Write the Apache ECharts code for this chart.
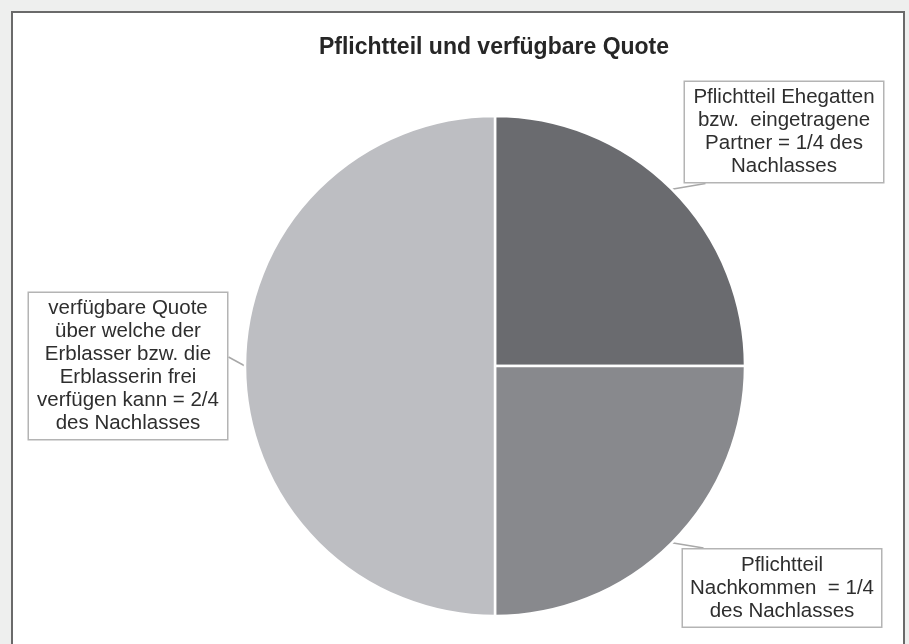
<!DOCTYPE html>
<html>
<head>
<meta charset="utf-8">
<script src="https://cdn.jsdelivr.net/npm/echarts@6/dist/echarts.min.js"></script>
<style>
  html, body { margin: 0; padding: 0; background: #eeefee; }
  #frame { position: absolute; left: 11px; top: 11px; width: 890px; height: 640px;
           background: #fff; border: 2px solid #6a6a6a; border-bottom: none; }
  #main { position: absolute; left: 0; top: 0; width: 909px; height: 644px; }
</style>
</head>
<body>
<div id="frame"></div>
<div id="main"></div>
<script>
var titleText = 'Pflichtteil und verfügbare Quote';
var sliceNames = [
    'Pflichtteil Ehegatten\nbzw.  eingetragene\nPartner = 1/4 des\nNachlasses',
    'Pflichtteil\nNachkommen  = 1/4\ndes Nachlasses',
    'verfügbare Quote\nüber welche der\nErblasser bzw. die\nErblasserin frei\nverfügen kann = 2/4\ndes Nachlasses'
];
var sliceValues = [1, 1, 2];
var sliceColors = ['#6a6b6f', '#88898d', '#bdbec2'];
// where each callout box sits (centre of box)
var labelSpots = [[784, 132], [782, 588], [128, 366]];

var dom = document.getElementById('main');
var myChart = echarts.init(dom);

var data = [];
for (var i = 0; i < sliceValues.length; i++) {
    data.push({ value: sliceValues[i], name: sliceNames[i], itemStyle: { color: sliceColors[i] } });
}

var option = {
    backgroundColor: 'transparent',
    animation: false,
    title: {
        text: titleText,
        left: 489,
        top: 31,
        textAlign: 'center',
        textStyle: {
            fontFamily: 'Liberation Sans',
            fontSize: 23,
            fontWeight: 'bold',
            color: '#262626'
        }
    },
    series: [
        {
            type: 'pie',
            center: [495, 366],
            radius: 250,
            startAngle: 90,
            clockwise: true,
            itemStyle: {
                borderColor: '#ffffff',
                borderWidth: 2.5
            },
            label: {
                show: true,
                formatter: '{b}',
                fontFamily: 'Liberation Sans',
                fontSize: 20.5,
                lineHeight: 23,
                color: '#2e2e2e',
                align: 'center',
                width: 192,
                backgroundColor: '#ffffff',
                borderColor: '#b4b4b4',
                borderWidth: 1.5,
                padding: [4, 3, 4, 3]
            },
            labelLine: {
                show: true,
                length: 20,
                length2: 20,
                lineStyle: { color: '#a8a8a8', width: 1.5 }
            },
            labelLayout: function (params) {
                var p = labelSpots[params.dataIndex];
                var r = params.labelRect;
                var w = r.width, h = r.height;
                var left = p[0] - w / 2, top = p[1] - h / 2;
                var tip = params.labelLinePoints ? params.labelLinePoints[0] : null;
                var end;
                if (params.dataIndex === 0) {
                    end = [left + 22, top + h];
                } else if (params.dataIndex === 1) {
                    end = [left + 22, top];
                } else {
                    end = [left + w, p[1] - 9];
                }
                var out = { x: p[0], y: p[1], align: 'center', verticalAlign: 'middle' };
                if (tip) {
                    out.labelLinePoints = [tip, end, end];
                }
                return out;
            },
            data: data
        }
    ]
};

if (option && typeof option === 'object') {
    myChart.setOption(option, true);
}
</script>
</body>
</html>
